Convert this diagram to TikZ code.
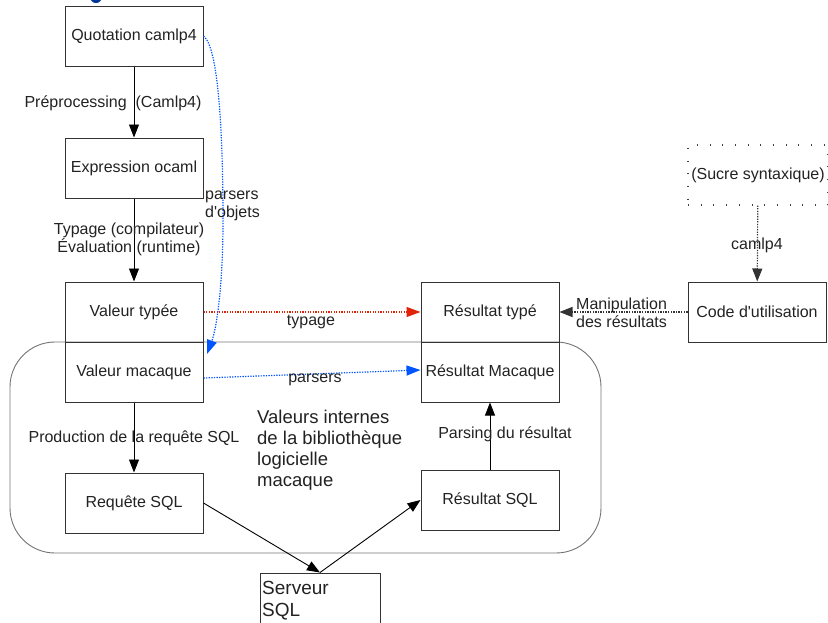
\documentclass[tikz,border=0pt]{standalone}
\usepackage{fontspec}
\setmainfont{Liberation Sans}
\usetikzlibrary{arrows.meta}
\definecolor{rblue}{RGB}{0,85,255}
\definecolor{rred}{RGB}{225,35,10}
\definecolor{ink}{RGB}{34,34,34}
\begin{document}
\begin{tikzpicture}[x=1pt,y=-1pt, font=\fontsize{16}{18}\selectfont, text=ink,
  box/.style={draw=black!80, line width=1pt, minimum width=138pt, minimum height=60pt, inner sep=0pt},
  arr/.style={-{Triangle[length=13pt,width=10pt]}, line width=0.9pt},
  dotl/.style={dash pattern=on 1.3pt off 1.3pt, line width=1.2pt},
  lbl/.style={inner sep=1pt}]
\useasboundingbox (0,0) rectangle (828,622);
\fill[rblue!60!black] (96,-3) circle (6);
% container
\draw[black!55, line width=0.9pt, rounded corners=45pt] (10,342) rectangle (601,553);
% boxes
\node[box] (quot) at (134,36) {Quotation camlp4};
\node[box] (expr) at (134,168) {Expression ocaml};
\node[box] (vt) at (134,312) {Valeur typée};
\node[box] (vm) at (134,372) {Valeur macaque};
\node[box] (req) at (134,503) {Requête SQL};
\node[box] (rt) at (490,312) {Résultat typé};
\node[box] (rm) at (490,372) {Résultat Macaque};
\node[box] (rs) at (490,500) {Résultat SQL};
\node[box] (code) at (757,312) {Code d\textquotesingle utilisation};
\node[box, minimum width=120pt, minimum height=70pt] (srv) at (320,608) {};
\node[lbl, anchor=west, align=left, font=\fontsize{19}{22}\selectfont] (srvt) at (261,601) {Serveur\\SQL};
\node[draw=black!75, dash pattern=on 1pt off 11.7pt, line width=1.1pt, minimum width=140pt, minimum height=60pt, inner sep=0pt] (sucre) at (758,175) {(Sucre syntaxique)};
% solid arrows
\draw[arr] (quot) -- (expr);
\draw[arr] (expr) -- (vt);
\draw[arr] (vm) -- (req);
\draw[arr] (rs) -- (rm);
\draw[arr] (req.east) -- (srv.north);
\draw[arr] (srv.north) -- (rs.west);
% dotted arrows
\draw[arr, dotl, black!80] (sucre) -- (code);
\draw[arr, dotl, black!80] (code.west) -- (rt.east);
\draw[dotl, rred, -{Triangle[length=14pt,width=10pt]}] (vt.east) -- (rt.west);
\draw[dotl, rblue, -{Triangle[length=14pt,width=10pt]}] ([yshift=-6pt]vm.east) -- ([yshift=2pt]rm.west);
\draw[dotl, rblue, -{Triangle[length=14pt,width=10pt]}] (quot.east) .. controls (220,48) and (223,150) .. (223,220) .. controls (223,290) and (216,330) .. (207,354);
% labels
\node[lbl] (l1) at (113,103) {Préprocessing \ (Camlp4)};
\node[lbl, align=center] (l2) at (129,239) {Typage (compilateur)\\Évaluation (runtime)};
\node[lbl, align=left, anchor=west] (l3) at (204,206) {parsers\\d\textquotesingle objets};
\node[lbl] (l4) at (311,322) {typage};
\node[lbl] (l5) at (315,380) {parsers};
\node[lbl] (l6) at (134,438) {Production de la requête SQL};
\node[lbl, align=left, anchor=west, font=\fontsize{18.5}{21}\selectfont] (l7) at (256,450) {Valeurs internes\\de la bibliothèque\\logicielle\\macaque};
\node[lbl] (l8) at (505,434) {Parsing du résultat};
\node[lbl] (l9) at (757,245) {camlp4};
\node[lbl, align=left, anchor=west] (l10) at (575,313) {Manipulation\\des résultats};
\end{tikzpicture}
\end{document}
